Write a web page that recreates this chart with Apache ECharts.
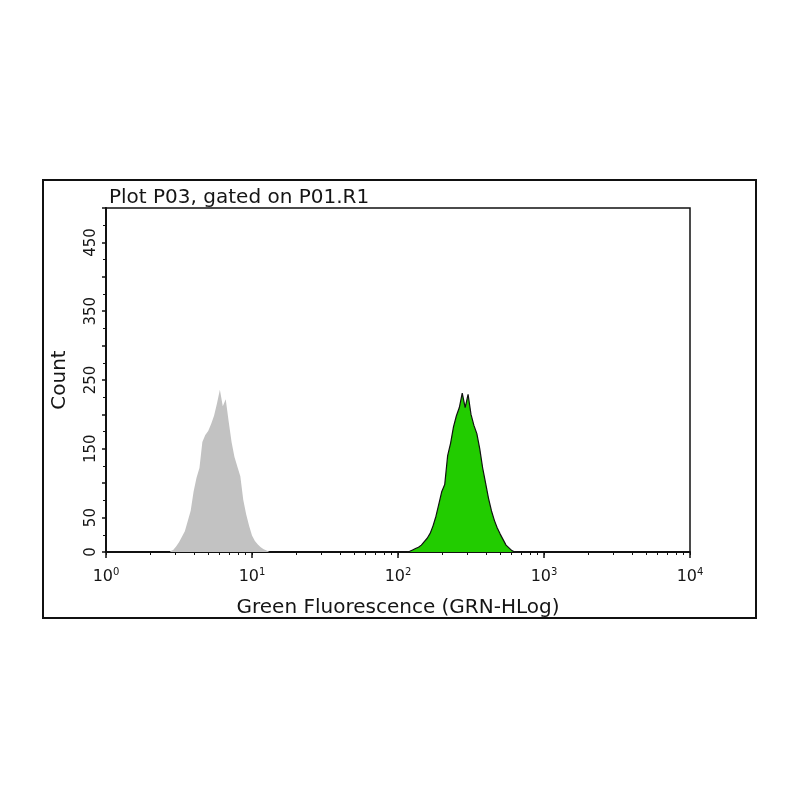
<!DOCTYPE html>
<html><head><meta charset="utf-8">
<script src="https://cdn.jsdelivr.net/npm/echarts@6/dist/echarts.min.js"></script>
<style>html,body{margin:0;padding:0;background:#fff}#c{width:800px;height:800px}</style>
</head><body><div id="c"></div>
<script>
// Histogram bins: log10 of first bin centre and bin width (decades)
const grayStartLog = 0.44;
const greenStartLog = 2.06;
const binStepLog = 0.02;
const grayCounts = [1,3,8,14,22,30,45,60,88,108,122,160,170,176,186,198,216,236,212,222,190,160,138,124,110,76,55,38,24,16,11,7,4,2,0];
const greenCounts = [0,1,3,5,7,10,15,20,27,38,52,70,88,98,140,158,182,198,210,231,210,229,200,184,172,150,122,100,78,60,46,35,26,18,10,6,2,0];
const xTickExps = [0,1,2,3,4];
const yTickLabels = [0,50,150,250,350,450];

function toPairs(start, counts){
  return counts.map((c,i)=>[Math.pow(10, start + i*binStepLog), c]);
}
const minorVals = [];
for (let e=0;e<4;e++) for (let k=1;k<10;k++) minorVals.push(k*Math.pow(10,e));
minorVals.push(10000);

const font = 'DejaVu Sans';
const chart = echarts.init(document.getElementById('c'));
chart.setOption({
  animation:false,
  backgroundColor:'#fff',
  graphic:[{type:'rect',shape:{x:43,y:180,width:713,height:438},style:{fill:'none',stroke:'#111',lineWidth:2},z:-1}],
  title:{text:'Plot P03, gated on P01.R1',left:104,top:183,textStyle:{fontFamily:font,fontSize:20,fontWeight:'normal',color:'#151515'}},
  grid:{left:106,right:110,top:208,bottom:248,show:true,borderColor:'#111',borderWidth:1.5},
  xAxis:[{
    type:'log',logBase:10,min:1,max:10000,
    name:'Green Fluorescence (GRN-HLog)',nameLocation:'middle',nameGap:46,
    nameTextStyle:{fontFamily:font,fontSize:20,color:'#151515'},
    axisLine:{lineStyle:{color:'#111',width:2}},
    axisTick:{length:6,lineStyle:{color:'#111',width:1.5}},
    splitLine:{show:false},
    axisLabel:{color:'#111',margin:15,formatter:v=>{const e=Math.round(Math.log10(v));return '{b|10}{s|'+e+'}';},
      rich:{b:{fontFamily:font,fontSize:16,color:'#151515'},s:{fontFamily:font,fontSize:10,color:'#151515',verticalAlign:'top',padding:[0,0,9,0]}}}
  },{
    type:'log',logBase:10,min:1,max:10000,position:'bottom',
    axisLine:{show:false},axisLabel:{show:false},splitLine:{show:false},
    axisTick:{show:true,length:3,customValues:minorVals,lineStyle:{color:'#111',width:1}}
  }],
  yAxis:{
    type:'value',min:0,max:500,interval:50,
    name:'Count',nameLocation:'middle',nameGap:36,nameRotate:90,
    nameTextStyle:{fontFamily:font,fontSize:20,color:'#151515'},
    axisLine:{show:true,lineStyle:{color:'#111',width:2}},
    axisTick:{show:true,length:4,lineStyle:{color:'#111',width:1.5}},
    minorTick:{show:true,splitNumber:2,length:3,lineStyle:{color:'#111'}},
    splitLine:{show:false},
    axisLabel:{rotate:90,margin:7,fontFamily:font,fontSize:15,color:'#151515',
      formatter:v=>yTickLabels.indexOf(v)>=0?String(v):''}
  },
  series:[{
    type:'line',data:toPairs(grayStartLog,grayCounts),symbol:'none',
    lineStyle:{width:0},areaStyle:{color:'#c2c2c2',opacity:1},z:2
  },{
    type:'line',data:toPairs(greenStartLog,greenCounts),symbol:'none',
    lineStyle:{width:1.2,color:'#111'},areaStyle:{color:'#22cc00',opacity:1},z:3
  }]
});
</script></body></html>
